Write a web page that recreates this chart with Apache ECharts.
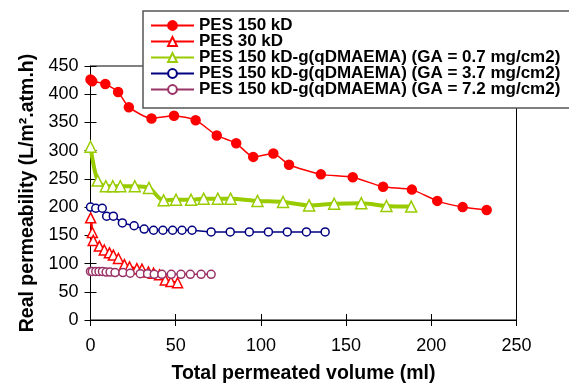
<!DOCTYPE html>
<html><head><meta charset="utf-8">
<script src="https://cdn.jsdelivr.net/npm/echarts@6/dist/echarts.min.js"></script>
<style>html,body{margin:0;padding:0;background:#fff}#c{width:569px;height:389px}</style>
</head><body><div id="c"></div>
<script>
const seriesNames = [
  'PES 150 kD',
  'PES 30 kD',
  'PES 150 kD-g(qDMAEMA) (GA = 0.7 mg/cm2)',
  'PES 150 kD-g(qDMAEMA) (GA = 3.7 mg/cm2)',
  'PES 150 kD-g(qDMAEMA) (GA = 7.2 mg/cm2)'
];
const pes150X = [0, 1, 8.7, 16.2, 22.5, 35.8, 49, 61.7, 74.1, 85.5, 95.5, 107.3, 116.5, 135.2, 153.9, 171.7, 188.6, 203.5, 218.4, 232.5];
const pes150Y = [426, 423, 418, 404, 377, 357, 362, 354, 327, 313, 289, 295, 275, 258, 253, 236, 231, 211, 200, 195];
const pes30X = [0.1, 1.1, 1.6, 5.2, 8.1, 11.1, 13.4, 16.4, 19.9, 22.9, 27.2, 30.2, 34, 37, 40.5, 43.9, 47.2, 51.1];
const pes30Y = [181, 155, 141, 131, 124, 119, 115, 109, 98, 94, 91, 90, 85, 83, 80, 71, 68, 66];
const ga07X = [0, 4.2, 9, 13.1, 17.5, 26, 34.3, 42.9, 50.2, 59, 66.4, 74.7, 82.2, 98, 113, 128.3, 143, 158.9, 173.7, 188.2];
const ga07Y = [307, 247, 237, 237, 237, 237, 234, 212, 213, 213, 215, 215, 215, 211, 209, 203, 206, 207, 202, 201];
const ga37X = [0, 3.1, 6.9, 9.5, 13.4, 18.7, 25.6, 31.5, 37, 42.5, 48.2, 53.7, 59.6, 70.8, 82, 93.2, 104.4, 115.5, 126.7, 137.7];
const ga37Y = [200, 198, 198, 184, 184, 172, 167, 161, 159, 159, 159, 159, 159, 156, 156, 156, 156, 156, 156, 156];
const ga72X = [0, 1.1, 3.1, 5, 7, 9.2, 11.5, 14.4, 19, 23.3, 29.2, 33.5, 37.4, 41.9, 47.4, 53.1, 58.6, 64.9, 70.8];
const ga72Y = [86, 86, 86, 86, 86, 85, 85, 84, 84, 83, 82, 82, 81, 81, 81, 81, 81, 81, 81];
const xTicks = {min: 0, max: 250, interval: 50};
const yTicks = {min: 0, max: 450, interval: 50};

function pairs(xs, ys) { return xs.map((x, i) => [x, ys[i]]); }

const chart = echarts.init(document.getElementById('c'), null, {renderer: 'canvas'});
const tickFont = {fontFamily: 'Liberation Sans, Arial, sans-serif', fontSize: 18, color: '#000'};
const titleFont = {fontFamily: 'Liberation Sans, Arial, sans-serif', fontSize: 19.5, fontWeight: 'bold', color: '#000'};

function mk(name, data, color, symbol, size, lw, smooth, filled) {
  return {
    name: name, type: 'line', data: data, xAxisIndex: 0, yAxisIndex: 0,
    symbol: symbol, symbolSize: size, smooth: smooth,
    showAllSymbol: true,
    lineStyle: {color: color, width: lw},
    itemStyle: {color: filled ? color : '#fff', borderColor: color, borderWidth: 1.5},
    emphasis: {disabled: true},
    animation: false
  };
}

chart.setOption({
  animation: false,
  backgroundColor: '#fff',
  grid: {left: 90.5, right: 52.5, top: 66, bottom: 63, show: true, borderColor: '#000', borderWidth: 1, containLabel: false},
  legend: {
    orient: 'vertical', left: 143, top: 11,
    padding: [6, 10, 10, 7],
    itemWidth: 43, itemHeight: 11, itemGap: -1,
    backgroundColor: '#fff', borderColor: '#555', borderWidth: 1.5,
    textStyle: {fontFamily: 'Liberation Sans, Arial, sans-serif', fontSize: 17, fontWeight: 'bold', color: '#000', lineHeight: 16, width: 420, overflow: 'none'},
    data: seriesNames
  },
  xAxis: [{
    type: 'value', min: xTicks.min, max: xTicks.max, interval: xTicks.interval,
    position: 'bottom',
    name: 'Total permeated volume (ml)', nameLocation: 'middle', nameGap: 44, nameTextStyle: titleFont,
    axisLine: {show: true, lineStyle: {color: '#000', width: 1}},
    axisTick: {show: true, inside: false, length: 6, lineStyle: {color: '#000'}},
    axisLabel: Object.assign({margin: 17}, tickFont),
    splitLine: {show: false}
  }, {
    type: 'value', min: xTicks.min, max: xTicks.max, interval: xTicks.interval,
    position: 'bottom', offset: 0,
    axisLine: {show: false},
    axisTick: {show: true, inside: true, length: 6, lineStyle: {color: '#000'}},
    axisLabel: {show: false}, splitLine: {show: false}
  }],
  yAxis: [{
    type: 'value', min: yTicks.min, max: yTicks.max, interval: yTicks.interval,
    position: 'left',
    name: 'Real permeability (L/m\u00B2.atm.h)', nameLocation: 'middle', nameGap: 52, nameTextStyle: titleFont,
    axisLine: {show: true, lineStyle: {color: '#000', width: 1}},
    axisTick: {show: true, inside: false, length: 6, lineStyle: {color: '#000'}},
    axisLabel: Object.assign({margin: 12}, tickFont),
    splitLine: {show: false}
  }, {
    type: 'value', min: yTicks.min, max: yTicks.max, interval: yTicks.interval,
    position: 'left', offset: 0,
    axisLine: {show: false},
    axisTick: {show: true, inside: true, length: 6, lineStyle: {color: '#000'}},
    axisLabel: {show: false}, splitLine: {show: false}
  }],
  series: [
    mk(seriesNames[0], pairs(pes150X, pes150Y), '#ff0000', 'circle', 9, 1.5, 0.2, true),
    mk(seriesNames[1], pairs(pes30X, pes30Y), '#ff0000', 'triangle', 10, 2.5, 0, false),
    mk(seriesNames[2], pairs(ga07X, ga07Y), '#99cc00', 'triangle', 11, 4, 0.3, false),
    mk(seriesNames[3], pairs(ga37X, ga37Y), '#000080', 'circle', 8, 1.5, 0, false),
    mk(seriesNames[4], pairs(ga72X, ga72Y), '#993366', 'circle', 8, 1.5, 0, false)
  ]
});
</script></body></html>
